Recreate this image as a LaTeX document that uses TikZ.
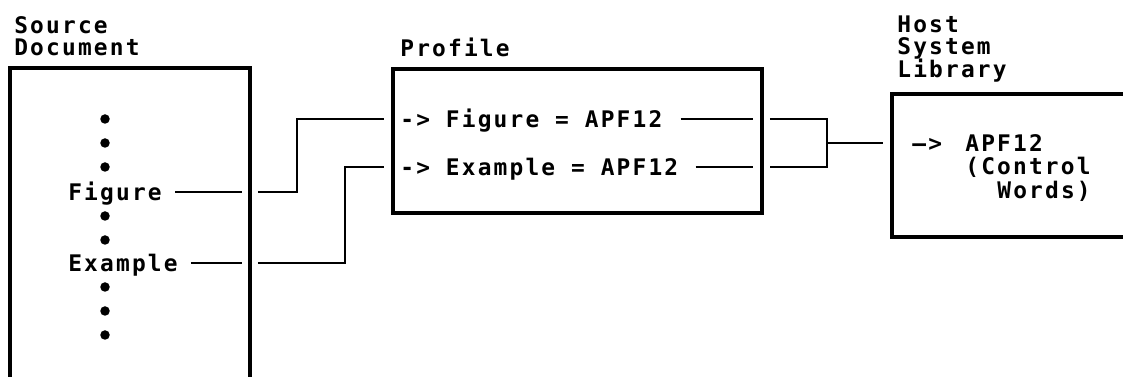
\documentclass[tikz,border=0pt]{standalone}
\usepackage{fontspec}
\newfontfamily\listfont{DejaVu Sans Mono Bold}[LetterSpace=9.5]
\usepackage{tikz}
\usetikzlibrary{positioning, calc}
\tikzset{
  docbox/.style={rectangle, draw=black, line width=1.8pt,
                 outer sep=0pt, inner sep=0pt},
  txt/.style={anchor=west, inner sep=0pt, text height=9.3pt, text depth=0pt,
              font=\fontsize{13}{15}\listfont},
}

\begin{document}
\begin{tikzpicture}[
    x=0.02cm, y=-0.02cm,
    link/.style={line width=1.4pt},
  ]
    \useasboundingbox (0,0) rectangle (1123,377);

    % Boxes
    \node[docbox, minimum width=4.8cm, minimum height=6.64cm] (src) at (130,234) {};
    \node[docbox, minimum width=7.38cm, minimum height=2.88cm] (profile) at (577.5,141) {};
    \node[docbox, minimum width=4.96cm, minimum height=2.86cm] (host) at (1016,165.5) {};

    % Headings
    \node[txt] (srcA) at (14,25) {Source};
    \node[txt] (srcB) at (14,47) {Document};
    \node[txt] (profA) at (400,48) {Profile};
    \node[txt] (hostA) at (897,24) {Host};
    \node[txt] (hostB) at (897,46) {System};
    \node[txt] (hostC) at (897,69) {Library};

    % Source document
    \node[txt] (srcfig) at (68,192) {Figure};
    \node[txt] (srcex) at (68,263) {Example};
    \foreach \y in {119,143,167,216,240,287,311,335}
      \fill (105,\y) circle (0.095cm);

    % Profile entries
    \node[txt] (pfig) at (400,119) {-> Figure = APF12};
    \node[txt] (pex) at (400,167) {-> Example = APF12};

    % Host library member
    \node[txt] (hostarr) at (912,143) {—>};
    \node[txt] (hostapf) at (965,143) {APF12};
    \node[txt] (hostctl) at (965,166) {(Control};
    \node[txt] (hostwrd) at (997,190) {Words)};

    % Source -> Profile
    \draw[link] ([xshift=0.26cm]srcfig.east) -- ([xshift=-0.16cm]srcfig.east -| src.east);
    \draw[link] ([xshift=0.26cm]srcex.east) -- ([xshift=-0.16cm]srcex.east -| src.east);
    \draw[link] ([xshift=0.16cm]srcfig.east -| src.east) -- ++(39,0)
         |- ([xshift=-0.18cm]pfig.west -| profile.west);
    \draw[link] ([xshift=0.16cm]srcex.east -| src.east) -- ++(87,0)
         |- ([xshift=-0.18cm]pex.west -| profile.west);

    % Profile -> Host
    \draw[link] ([xshift=0.36cm]pfig.east) -- ([xshift=-0.18cm]pfig.east -| profile.east);
    \draw[link] ([xshift=0.34cm]pex.east) -- ([xshift=-0.18cm]pex.east -| profile.east);
    \draw[link] ([xshift=0.16cm]pfig.east -| profile.east) -- ++(57,0) coordinate (fork)
         |- ([xshift=0.16cm]pex.east -| profile.east);
    \draw[link] (fork |- hostarr.west) -- ([xshift=-0.18cm]hostarr.west -| host.west);
\end{tikzpicture}
\end{document}
